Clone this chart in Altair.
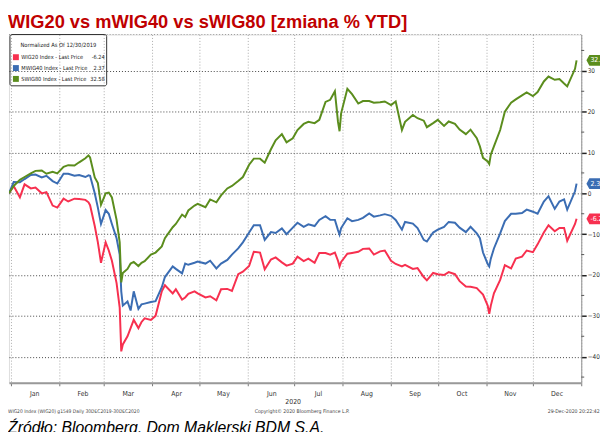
import altair as alt
import pandas as pd

title_text = "WIG20 vs mWIG40 vs sWIG80 [zmiana % YTD]"
legend_title = "Normalized As Of 12/30/2019"
series_names = ["WIG20", "MWIG40", "SWIG80"]
series_colors = ["#F7304F", "#3B6DB3", "#5B8D1D"]
month_year = "2020"
footer_left = "WIG20 Index (WIG20) g1549  Daily 30DEC2019-30DEC2020"
footer_mid = "Copyright\u00a9 2020 Bloomberg Finance L.P."
footer_right = "29-Dec-2020 20:22:42"
source_text = "Źródło: Bloomberg, Dom Maklerski BDM S.A."
major_ticks = list(range(-40, 31, 10))
minor_ticks = list(range(-45, 36, 10))

dates = [
    "2019-12-31", "2020-01-03", "2020-01-07", "2020-01-10", "2020-01-14", "2020-01-17", "2020-01-21", "2020-01-24", "2020-01-28", "2020-01-31",
    "2020-02-04", "2020-02-07", "2020-02-11", "2020-02-14", "2020-02-18", "2020-02-20", "2020-02-21", "2020-02-24", "2020-02-26", "2020-02-28",
    "2020-03-02", "2020-03-04", "2020-03-06", "2020-03-09", "2020-03-11", "2020-03-12", "2020-03-13", "2020-03-16", "2020-03-18", "2020-03-20",
    "2020-03-23", "2020-03-25", "2020-03-27", "2020-03-31",
    "2020-04-03", "2020-04-07", "2020-04-09", "2020-04-14", "2020-04-16", "2020-04-20", "2020-04-22", "2020-04-24", "2020-04-28", "2020-04-30",
    "2020-05-05", "2020-05-08", "2020-05-12", "2020-05-15", "2020-05-19", "2020-05-22", "2020-05-26", "2020-05-29",
    "2020-06-02", "2020-06-05", "2020-06-09", "2020-06-12", "2020-06-16", "2020-06-19", "2020-06-23", "2020-06-26", "2020-06-30",
    "2020-07-03", "2020-07-07", "2020-07-10", "2020-07-14", "2020-07-17", "2020-07-21", "2020-07-24", "2020-07-27", "2020-07-29", "2020-07-30", "2020-07-31",
    "2020-08-04", "2020-08-07", "2020-08-11", "2020-08-14", "2020-08-18", "2020-08-21", "2020-08-25", "2020-08-28",
    "2020-09-01", "2020-09-04", "2020-09-08", "2020-09-10", "2020-09-15", "2020-09-18", "2020-09-22", "2020-09-24", "2020-09-28",
    "2020-10-01", "2020-10-05", "2020-10-08", "2020-10-12", "2020-10-15", "2020-10-19", "2020-10-22", "2020-10-26", "2020-10-28", "2020-10-30",
    "2020-11-02", "2020-11-03", "2020-11-04", "2020-11-06", "2020-11-10", "2020-11-13", "2020-11-17", "2020-11-20", "2020-11-24", "2020-11-27",
    "2020-12-01", "2020-12-04", "2020-12-08", "2020-12-11", "2020-12-15", "2020-12-18", "2020-12-21", "2020-12-23", "2020-12-28", "2020-12-29",
]

wig20 = [
    0, 1.8, -1.0, 2.2, 1.2, 1.4, 0.0, 0.3, -3.0, -3.5,
    -1.3, -2.0, -1.3, -1.4, -1.6, -2.2, -2.9, -8.0, -12.0, -17.0,
    -12.0, -14.0, -16.5, -22.0, -28.0, -38.7, -37.0, -35.0, -33.0, -31.0, -33.0, -31.5, -30.6, -31.0,
    -30.0, -24.0, -22.5, -24.5, -23.5, -26.0, -25.5, -24.6, -24.0, -24.5,
    -25.5, -25.2, -26.2, -23.5, -23.4, -23.9, -19.8, -19.2,
    -17.8, -14.3, -14.5, -18.6, -16.2, -15.7, -16.9, -17.7, -17.2,
    -15.5, -16.6, -16.0, -17.0, -14.6, -14.6, -15.0, -14.5, -16.5, -17.9, -16.8,
    -14.8, -14.6, -14.3, -13.6, -13.5, -15.0, -14.2, -14.0,
    -16.5, -17.3, -17.9, -17.5, -18.5, -18.3, -20.5, -21.3, -19.5,
    -19.8, -20.0, -19.3, -19.8, -21.5, -22.8, -22.9, -23.2, -24.0, -24.8,
    -27.5, -29.5, -27.5, -24.5, -21.2, -17.6, -18.4, -16.0, -15.5, -14.0,
    -14.4, -12.5, -9.6, -7.8, -9.3, -8.5, -8.5, -11.6, -7.5, -6.24,
]

mwig40 = [
    0, 2.8, 2.7, 3.5, 4.5, 4.6, 3.9, 4.3, 3.0, 2.4,
    4.8, 4.8, 4.3, 4.5, 4.0, 4.4, 4.3, 0.0, -3.5, -7.5,
    -4.1, -5.0, -7.5, -11.0, -15.0, -24.0, -27.5, -26.5, -28.7, -24.0, -28.3, -27.2, -27.0, -26.6,
    -26.4, -23.0, -20.5, -17.9, -18.5, -19.6, -17.2, -17.5, -17.0, -16.7,
    -17.2, -16.5, -18.4, -17.2, -16.3, -15.0, -13.5, -12.0,
    -9.6, -7.8, -7.8, -11.4, -9.5, -9.7, -8.6, -10.0, -8.4,
    -7.2, -8.2, -7.6, -8.0, -6.5, -5.6, -6.5, -6.5, -9.0, -10.1, -8.5,
    -6.1, -6.8, -6.5, -6.0, -4.9, -5.7, -5.4, -5.1,
    -5.5, -6.5, -8.9, -7.0, -7.4, -8.5, -11.4, -11.8, -9.6,
    -8.9, -8.2, -7.0, -7.2, -8.4, -9.5, -8.2, -9.8, -11.0, -14.5,
    -17.3, -17.9, -16.0, -13.5, -9.8, -6.8, -5.0, -5.0, -4.8, -4.0,
    -4.5, -5.0, -2.0, -0.7, -3.8, -2.0, -1.5, -4.0, 0.5, 2.37,
]

swig80 = [
    0, 1.8, 3.3, 4.0, 4.9, 5.5, 5.6, 4.8, 5.3, 4.9,
    6.5, 6.9, 6.8, 7.6, 8.6, 9.3, 8.8, 3.9, 2.5, -2.8,
    0.0, 0.2, -1.0, -6.5, -12.0, -21.8, -19.5, -18.5, -17.2, -16.8, -17.8, -17.0, -16.6, -15.0,
    -14.5, -13.0, -11.0, -8.3, -7.5, -5.2, -5.8, -4.2, -3.0, -2.6,
    -3.4, -1.5, -2.2, -0.5, 1.2, 1.8, 3.0, 4.0,
    7.0, 8.5, 8.5, 7.5, 10.8, 13.0, 14.5, 12.5, 13.5,
    15.5, 17.0, 17.5, 17.2, 18.0, 22.4, 22.9, 25.0, 17.5, 15.2, 19.6,
    25.6, 24.3, 22.0, 22.6, 22.6, 22.2, 22.3, 22.5,
    21.6, 22.5, 15.5, 17.5, 19.2, 18.4, 17.8, 16.2, 17.2,
    18.0, 16.5, 17.6, 17.0, 15.6, 14.5, 15.6, 13.5, 11.5, 8.7,
    7.8, 7.2, 9.5, 11.5, 15.5, 20.0, 22.2, 23.0, 24.0, 24.7,
    23.8, 24.8, 27.4, 28.6, 27.8, 28.0, 26.9, 26.2, 30.5, 32.58,
]

series_values = [wig20, mwig40, swig80]

rows = []
for name, vals in zip(series_names, series_values):
    for d, v in zip(dates, vals):
        rows.append({"date": pd.Timestamp(d), "series": name, "value": v})
df = pd.DataFrame(rows)

last_df = pd.DataFrame({
    "date": [pd.Timestamp(dates[-1])] * 3,
    "value": [v[-1] for v in series_values],
    "tag": [f"{v[-1]:.2f}" for v in series_values],
    "col": series_colors,
})

small_font = "Liberation Sans Narrow, DejaVu Sans Condensed, Liberation Sans, sans-serif"

x_scale = alt.Scale(domain=[alt.DateTime(year=2019, month=12, date=31),
                            alt.DateTime(year=2021, month=1, date=1)])
y_scale = alt.Scale(domain=[-46.4, 38.9], nice=False, zero=False)

month_ticks = [alt.DateTime(year=2020 + (m // 12), month=(m % 12) + 1, date=1) for m in range(13)]

lines = alt.Chart(df).mark_line(strokeWidth=2, clip=True).encode(
    x=alt.X("date:T", scale=x_scale, title=None,
            axis=alt.Axis(values=month_ticks, format="%b",
                          labelExpr="year(datum.value) > 2020 ? '' : timeFormat(datum.value, '%b')",
                          labelOffset=24, labelAlign="center", labelFontSize=7, labelFont=small_font,
                          labelColor="#333", labelPadding=4, tickSize=3, tickColor="#777",
                          domainColor="#999", domainWidth=2,
                          grid=True, gridColor="#aaa", gridDash=[1, 2], gridWidth=1)),
    y=alt.Y("value:Q", scale=y_scale, title=None,
            axis=alt.Axis(orient="right", values=major_ticks, labelFontSize=6.5,
                          labelFont=small_font, labelColor="#333", tickSize=5, tickColor="#222",
                          tickWidth=1.5, labelPadding=1, domainColor="#999", domainWidth=1,
                          grid=True, gridColor="#444", gridDash=[1, 2], gridWidth=1)),
    color=alt.Color("series:N", scale=alt.Scale(domain=series_names, range=series_colors),
                    legend=None),
)

# minor ticks on the right value axis
minor = alt.Chart(pd.DataFrame({"v": minor_ticks})).mark_rule(color="#555", strokeWidth=1).encode(
    y=alt.Y("v:Q", scale=y_scale), x=alt.value(580), x2=alt.value(583))

# dotted top frame
top_frame = alt.Chart(pd.DataFrame({"a": [0]})).mark_rule(color="#999", strokeDash=[1, 2]).encode(
    x=alt.value(0), x2=alt.value(580), y=alt.value(0))

tag_shape = "M-1,0L-0.8,-0.36L1,-0.36L1,0.36L-0.8,0.36Z"
tags = alt.Chart(last_df).mark_point(shape=tag_shape, size=900, filled=True, opacity=1,
                                     xOffset=25).encode(
    x=alt.X("date:T", scale=x_scale),
    y=alt.Y("value:Q", scale=y_scale),
    fill=alt.Fill("col:N", scale=None),
)
tag_text = alt.Chart(last_df).mark_text(align="left", baseline="middle", dx=14, fontSize=7,
                                        font=small_font, color="white").encode(
    x=alt.X("date:T", scale=x_scale),
    y=alt.Y("value:Q", scale=y_scale),
    text="tag:N",
)


def note(txt, x, y, **kw):
    return alt.Chart(pd.DataFrame({"t": [txt]})).mark_text(**kw).encode(
        text="t:N", x=alt.value(x), y=alt.value(y))


# legend box (Bloomberg style, transparent with a dark frame)
legend_layers = [
    alt.Chart(pd.DataFrame({"a": [0]})).mark_rect(fill=None, fillOpacity=0, stroke="#333",
                                                  strokeWidth=1, cornerRadius=2).encode(
        x=alt.value(1), x2=alt.value(99), y=alt.value(0), y2=alt.value(52)),
    note(legend_title, 50, 11, align="center", baseline="middle", fontSize=5.8,
         font=small_font, color="#222"),
]
for i, (name, vals, col) in enumerate(zip(series_names, series_values, series_colors)):
    ry = 23 + 11 * i
    legend_layers.append(
        alt.Chart(pd.DataFrame({"a": [0]})).mark_rect(color=col).encode(
            x=alt.value(4), x2=alt.value(10), y=alt.value(ry - 3), y2=alt.value(ry + 3)))
    legend_layers.append(note(f"{name} Index - Last Price", 12.5, ry, align="left",
                              baseline="middle", fontSize=5.7, font=small_font, color="#222"))
    legend_layers.append(note(f"{vals[-1]:.2f}", 97, ry, align="right", baseline="middle",
                              fontSize=5.7, font=small_font, color="#222"))

title = note(title_text, -1, -7, align="left", baseline="alphabetic", fontSize=18.5,
             fontWeight="bold", font="Liberation Sans", color="#C00000")
year_lbl = note(month_year, 288, 372, align="center", baseline="middle", fontSize=7,
                font=small_font, color="#333")
foot1 = note(footer_left, -1, 382, align="left", baseline="middle", fontSize=5,
             font=small_font, color="#444")
foot2 = note(footer_mid, 249, 382, align="left", baseline="middle", fontSize=5.2,
             font=small_font, color="#444")
foot3 = note(footer_right, 546, 382, align="left", baseline="middle", fontSize=5.2,
             font=small_font, color="#444")
src = note(source_text, -1, 404, align="left", baseline="alphabetic", fontSize=16,
           fontStyle="italic", font="Liberation Sans", color="#000")

chart = alt.layer(lines, minor, top_frame, tags, tag_text, *legend_layers, title, year_lbl,
                  foot1, foot2, foot3, src).properties(
    width=580, height=353,
    padding={"left": 1, "top": 24, "right": 19, "bottom": 47},
    autosize=alt.AutoSizeParams(type="none"),
).configure_view(stroke=None).configure(background="white")

chart.save("out.html", embed_options={"renderer": "svg", "actions": False})
